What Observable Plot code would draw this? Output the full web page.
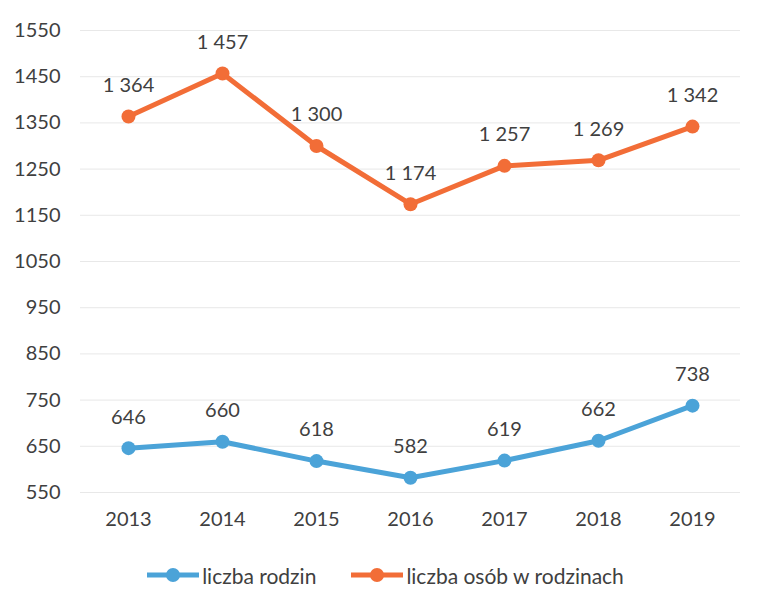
<!DOCTYPE html>
<html>
<head>
<meta charset="utf-8">
<script src="https://cdn.jsdelivr.net/npm/d3@7"></script>
<script src="https://cdn.jsdelivr.net/npm/@observablehq/plot@0.6"></script>
<style>
  body { margin: 0; background: #fff; font-family: Lato, "Open Sans", sans-serif; }
  #legend { display: flex; justify-content: center; align-items: center; height: 26px; margin-top: 17px; padding-left: 8px; font-size: 21px; color: #404040; }
  .item { display: flex; align-items: center; margin: 0 17px; }
  .item svg { margin-right: 2px; }
</style>
</head>
<body>
<div id="chart"></div>
<div id="legend"></div>
<script>
const years = ["2013", "2014", "2015", "2016", "2017", "2018", "2019"];
const rodziny = [646, 660, 618, 582, 619, 662, 738];
const osoby = [1364, 1457, 1300, 1174, 1257, 1269, 1342];
const yTicks = [550, 650, 750, 850, 950, 1050, 1150, 1250, 1350, 1450, 1550];
const seriesNames = ["liczba rodzin", "liczba osób w rodzinach"];
const colors = ["#4BA3D8", "#F26D37"];

const data = [];
years.forEach((y, i) => data.push({year: y, value: rodziny[i], series: seriesNames[0]}));
years.forEach((y, i) => data.push({year: y, value: osoby[i], series: seriesNames[1]}));

const fmt = d3.formatLocale({decimal: ",", thousands: " ", grouping: [3], currency: ["", " zł"]}).format(",d");

const chart = Plot.plot({
  width: 762,
  height: 545,
  marginTop: 30,
  marginBottom: 53,
  marginLeft: 80,
  marginRight: 22,
  style: {fontFamily: "Lato, 'Open Sans', sans-serif", fontSize: "20px", color: "#404040", background: "#fff"},
  x: {type: "point", domain: years, padding: 0.5, label: null, tickSize: 0, tickPadding: 19},
  y: {domain: [550, 1550], ticks: yTicks, label: null, tickSize: 0, tickPadding: 20},
  color: {domain: seriesNames, range: colors},
  marks: [
    Plot.gridY(yTicks, {stroke: "#d9d9d9", strokeOpacity: 0.6, strokeWidth: 1}),
    Plot.axisY({ticks: yTicks, tickSize: 0, tickPadding: 20, label: null, fill: "#404040", fontSize: 20, tickFormat: d => String(d)}),
    Plot.axisX({tickSize: 0, tickPadding: 19, label: null, fill: "#404040", fontSize: 20}),
    Plot.line(data, {x: "year", y: "value", z: "series", stroke: "series", strokeWidth: 5}),
    Plot.dot(data, {x: "year", y: "value", fill: "series", r: 7}),
    Plot.text(data, {x: "year", y: "value", text: d => fmt(d.value), dy: -31, fill: "#404040", fontSize: 20})
  ]
});
document.getElementById("chart").appendChild(chart);

const legend = document.getElementById("legend");
seriesNames.forEach((name, i) => {
  const item = document.createElement("div");
  item.className = "item";
  item.innerHTML = `<svg width="54" height="16"><line x1="1" y1="8" x2="53" y2="8" stroke="${colors[i]}" stroke-width="5"/><circle cx="27" cy="8" r="7" fill="${colors[i]}"/></svg><span>${name}</span>`;
  legend.appendChild(item);
});
</script>
</body>
</html>
